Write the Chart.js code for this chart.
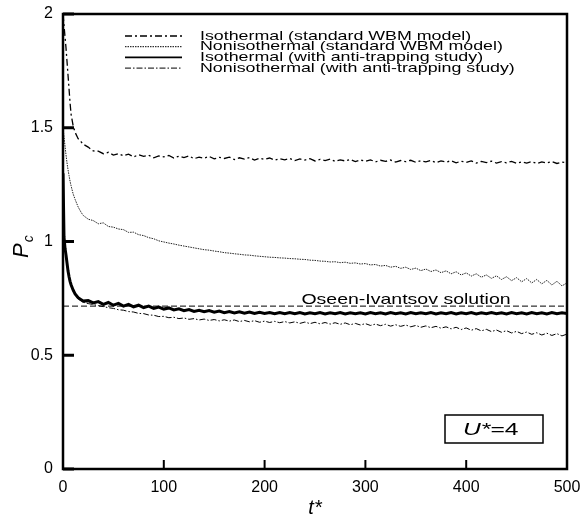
<!DOCTYPE html>
<html lang="en">

<head>
    <meta charset="UTF-8">
    <title>Pc vs t*</title>
    <script src="https://cdn.jsdelivr.net/npm/chart.js@4.4.0/dist/chart.umd.min.js"></script>
    <style>
        body { margin: 0; background: #fff; }
    </style>
</head>

<body>
    <canvas id="chart" width="581" height="522"></canvas>
    <script>
        // time axis (t*) shared by all four runs
        const tStar = [0, 1, 2, 3, 4, 5, 6, 7, 8, 10, 12, 15, 18, 20,
            25, 30, 35, 40, 45, 50, 55, 60, 65, 70, 75, 80, 85, 90, 95, 100,
            105, 110, 115, 120, 125, 130, 135, 140, 145, 150, 155, 160, 165, 170, 175, 180, 185, 190, 195, 200,
            205, 210, 215, 220, 225, 230, 235, 240, 245, 250, 255, 260, 265, 270, 275, 280, 285, 290, 295, 300,
            305, 310, 315, 320, 325, 330, 335, 340, 345, 350, 355, 360, 365, 370, 375, 380, 385, 390, 395, 400,
            405, 410, 415, 420, 425, 430, 435, 440, 445, 450, 455, 460, 465, 470, 475, 480, 485, 490, 495, 500];

        const isoStd = [2.00, 1.95, 1.90, 1.85, 1.79, 1.73, 1.67, 1.61, 1.56, 1.51, 1.48, 1.452, 1.438, 1.428,
            1.415, 1.398, 1.397, 1.386, 1.392, 1.380, 1.386, 1.377, 1.384, 1.372, 1.381, 1.374, 1.379, 1.368, 1.376, 1.372,
            1.378, 1.367, 1.375, 1.369, 1.376, 1.364, 1.371, 1.366, 1.374, 1.363, 1.370, 1.365, 1.371, 1.360, 1.368, 1.362, 1.369, 1.358, 1.366, 1.361,
            1.367, 1.357, 1.364, 1.359, 1.365, 1.356, 1.363, 1.358, 1.364, 1.354, 1.361, 1.356, 1.362, 1.352, 1.359, 1.354, 1.361, 1.351, 1.358, 1.353,
            1.359, 1.350, 1.357, 1.352, 1.358, 1.349, 1.356, 1.351, 1.357, 1.348, 1.355, 1.350, 1.356, 1.347, 1.354, 1.349, 1.355, 1.346, 1.353, 1.348,
            1.354, 1.345, 1.352, 1.347, 1.353, 1.345, 1.351, 1.346, 1.352, 1.344, 1.350, 1.345, 1.351, 1.343, 1.350, 1.345, 1.351, 1.343, 1.349, 1.346];

        const nonisoStd = [1.50, 1.46, 1.42, 1.38, 1.345, 1.315, 1.29, 1.265, 1.245, 1.21, 1.185, 1.152, 1.128, 1.115,
            1.098, 1.092, 1.078, 1.082, 1.066, 1.063, 1.055, 1.052, 1.040, 1.041, 1.030, 1.026, 1.017, 1.012, 1.003, 0.998,
            0.993, 0.989, 0.984, 0.980, 0.976, 0.972, 0.968, 0.964, 0.962, 0.958, 0.955, 0.951, 0.949, 0.946, 0.944, 0.941, 0.940, 0.937, 0.935, 0.933,
            0.931, 0.930, 0.928, 0.927, 0.925, 0.924, 0.922, 0.921, 0.918, 0.917, 0.914, 0.913, 0.910, 0.911, 0.907, 0.909, 0.904, 0.906, 0.901, 0.903,
            0.897, 0.899, 0.892, 0.895, 0.887, 0.891, 0.882, 0.887, 0.877, 0.883, 0.872, 0.879, 0.868, 0.875, 0.863, 0.871, 0.858, 0.867, 0.853, 0.862,
            0.848, 0.858, 0.843, 0.853, 0.838, 0.849, 0.833, 0.845, 0.828, 0.841, 0.823, 0.837, 0.818, 0.833, 0.814, 0.829, 0.809, 0.825, 0.805, 0.818];

        const isoAT = [1.30, 1.02, 0.97, 0.94, 0.905, 0.87, 0.845, 0.825, 0.81, 0.787, 0.77, 0.753, 0.744, 0.738,
            0.740, 0.730, 0.736, 0.724, 0.732, 0.720, 0.728, 0.716, 0.724, 0.713, 0.720, 0.709, 0.716, 0.706, 0.712, 0.703,
            0.708, 0.699, 0.704, 0.696, 0.701, 0.693, 0.698, 0.691, 0.696, 0.689, 0.694, 0.687, 0.692, 0.686, 0.691, 0.685, 0.690, 0.684, 0.689, 0.684,
            0.688, 0.683, 0.688, 0.683, 0.688, 0.683, 0.688, 0.682, 0.687, 0.683, 0.688, 0.682, 0.687, 0.683, 0.688, 0.682, 0.687, 0.683, 0.687, 0.682,
            0.688, 0.683, 0.687, 0.682, 0.688, 0.683, 0.687, 0.682, 0.688, 0.683, 0.687, 0.683, 0.688, 0.682, 0.687, 0.683, 0.688, 0.682, 0.687, 0.683,
            0.688, 0.682, 0.687, 0.683, 0.688, 0.683, 0.687, 0.682, 0.688, 0.683, 0.687, 0.682, 0.688, 0.683, 0.687, 0.682, 0.688, 0.683, 0.687, 0.683];

        const nonisoAT = [1.25, 1.00, 0.96, 0.93, 0.90, 0.865, 0.84, 0.82, 0.805, 0.782, 0.765, 0.748, 0.739, 0.733,
            0.727, 0.723, 0.718, 0.714, 0.709, 0.706, 0.700, 0.698, 0.692, 0.690, 0.684, 0.683, 0.677, 0.676, 0.670, 0.671,
            0.665, 0.667, 0.661, 0.664, 0.658, 0.661, 0.655, 0.659, 0.653, 0.657, 0.651, 0.656, 0.650, 0.655, 0.648, 0.653, 0.647, 0.652, 0.645, 0.650,
            0.644, 0.649, 0.643, 0.648, 0.642, 0.647, 0.640, 0.646, 0.639, 0.645, 0.638, 0.644, 0.637, 0.643, 0.636, 0.642, 0.634, 0.640, 0.633, 0.639,
            0.631, 0.637, 0.630, 0.636, 0.628, 0.634, 0.627, 0.633, 0.625, 0.631, 0.623, 0.629, 0.621, 0.627, 0.619, 0.625, 0.616, 0.623, 0.613, 0.620,
            0.610, 0.617, 0.607, 0.614, 0.604, 0.611, 0.601, 0.608, 0.598, 0.605, 0.595, 0.602, 0.592, 0.599, 0.589, 0.597, 0.587, 0.595, 0.585, 0.593];

        // Oseen-Ivantsov reference line
        const oseenT = [0, 500];
        const oseenPc = [0.716, 0.716];

        const seriesNames = [
            'Isothermal (standard WBM model)',
            'Nonisothermal (standard WBM model)',
            'Isothermal (with anti-trapping study)',
            'Nonisothermal (with anti-trapping study)'
        ];
        const xTicks = [0, 100, 200, 300, 400, 500];
        const yTicks = [0, 0.5, 1, 1.5, 2];

        const FONT = '"Liberation Sans", Arial, sans-serif';
        const pts = (xs, ys) => xs.map((v, i) => ({ x: v, y: ys[i] }));

        // draws text stretched horizontally like the original figure
        function wideText(ctx, str, x, y, sx, align) {
            ctx.save();
            ctx.translate(x, y);
            ctx.scale(sx, 1);
            ctx.textAlign = align || 'left';
            ctx.fillText(str, 0, 0);
            ctx.restore();
        }

        const decor = {
            id: 'decor',
            afterDatasetsDraw(chart) {
                const { ctx, chartArea: a, scales: { x, y } } = chart;
                ctx.save();
                ctx.strokeStyle = '#000';
                ctx.fillStyle = '#000';

                // frame
                ctx.lineWidth = 2.5;
                ctx.strokeRect(a.left, a.top, a.right - a.left, a.bottom - a.top);

                // inward ticks
                ctx.lineWidth = 3;
                yTicks.forEach(v => {
                    const py = y.getPixelForValue(v);
                    ctx.beginPath(); ctx.moveTo(a.left, py); ctx.lineTo(a.left + 11, py); ctx.stroke();
                });
                ctx.lineWidth = 2;
                xTicks.forEach(v => {
                    const px = x.getPixelForValue(v);
                    ctx.beginPath(); ctx.moveTo(px, a.bottom); ctx.lineTo(px, a.bottom - 9); ctx.stroke();
                });

                // legend inside the plot
                ctx.font = '13px ' + FONT;
                ctx.textBaseline = 'middle';
                chart.data.datasets.slice(0, 4).forEach((ds, i) => {
                    const ly = a.top + 22 + i * 10.7;
                    ctx.save();
                    ctx.lineWidth = ds.legendWidth;
                    ctx.setLineDash(ds.borderDash || []);
                    ctx.beginPath(); ctx.moveTo(125, ly); ctx.lineTo(182, ly); ctx.stroke();
                    ctx.restore();
                    wideText(ctx, ds.label, 200, ly, 1.37);
                });

                // Oseen-Ivantsov label
                ctx.font = '15px ' + FONT;
                ctx.textBaseline = 'alphabetic';
                wideText(ctx, 'Oseen-Ivantsov solution', 406, y.getPixelForValue(oseenPc[0]) - 2, 1.3, 'center');

                // U*=4 box
                const bx = a.right - 122, by = a.bottom - 54;
                ctx.lineWidth = 1.5;
                ctx.strokeRect(bx, by, 98, 28);
                ctx.textBaseline = 'middle';
                ctx.font = 'italic 17px ' + FONT;
                wideText(ctx, 'U*', bx + 18, by + 15, 1.45);
                const uw = ctx.measureText('U*').width * 1.45;
                ctx.font = '17px ' + FONT;
                wideText(ctx, '=4', bx + 18 + uw, by + 15, 1.45);

                // axis titles
                ctx.textBaseline = 'alphabetic';
                ctx.font = 'italic 20px ' + FONT;
                ctx.textAlign = 'center';
                ctx.fillText('t*', (a.left + a.right) / 2, 514);

                ctx.save();
                ctx.translate(28, 258);
                ctx.rotate(-Math.PI / 2);
                ctx.textAlign = 'left';
                ctx.font = 'italic 22px ' + FONT;
                ctx.fillText('P', 0, 0);
                const pw = ctx.measureText('P').width;
                ctx.font = 'italic 14px ' + FONT;
                ctx.fillText('c', pw + 1, 5);
                ctx.restore();

                ctx.restore();
            }
        };

        const ctx = document.getElementById('chart').getContext('2d');
        const myChart = new Chart(ctx, {
            type: 'line',
            data: {
                datasets: [{
                    label: seriesNames[0],
                    data: pts(tStar, isoStd),
                    borderColor: '#000',
                    borderWidth: 1.3,
                    legendWidth: 1.3,
                    borderDash: [7, 3, 2, 3]
                }, {
                    label: seriesNames[1],
                    data: pts(tStar, nonisoStd),
                    borderColor: '#222',
                    borderWidth: 1,
                    legendWidth: 1,
                    borderDash: [1.5, 1]
                }, {
                    label: seriesNames[2],
                    data: pts(tStar, isoAT),
                    borderColor: '#000',
                    borderWidth: 3,
                    legendWidth: 1.6
                }, {
                    label: seriesNames[3],
                    data: pts(tStar, nonisoAT),
                    borderColor: '#000',
                    borderWidth: 1,
                    legendWidth: 1,
                    borderDash: [6, 2, 1.5, 2]
                }, {
                    label: 'Oseen-Ivantsov solution',
                    data: pts(oseenT, oseenPc),
                    borderColor: '#000',
                    borderWidth: 1,
                    borderDash: [6, 3]
                }]
            },
            options: {
                responsive: false,
                animation: false,
                layout: { padding: { top: 14, right: 14, left: 0, bottom: 0 } },
                elements: { point: { radius: 0 }, line: { tension: 0 } },
                plugins: {
                    legend: { display: false },
                    tooltip: { enabled: false }
                },
                scales: {
                    x: {
                        type: 'linear',
                        min: 0,
                        max: 500,
                        afterFit(scale) {
                            scale.height = 53;
                            scale.paddingLeft = 0;
                            scale.paddingRight = 0;
                        },
                        grid: { display: false, drawTicks: false },
                        border: { display: false },
                        ticks: {
                            stepSize: 100,
                            padding: 9,
                            color: '#000',
                            maxRotation: 0,
                            font: { family: FONT, size: 16 }
                        }
                    },
                    y: {
                        min: 0,
                        max: 2,
                        afterFit(scale) {
                            scale.width = 63;
                            scale.paddingTop = 0;
                            scale.paddingBottom = 0;
                        },
                        grid: { display: false, drawTicks: false },
                        border: { display: false },
                        ticks: {
                            stepSize: 0.5,
                            padding: 10,
                            color: '#000',
                            font: { family: FONT, size: 16 },
                            callback: v => String(v)
                        }
                    }
                }
            },
            plugins: [decor]
        });
    </script>
</body>

</html>
